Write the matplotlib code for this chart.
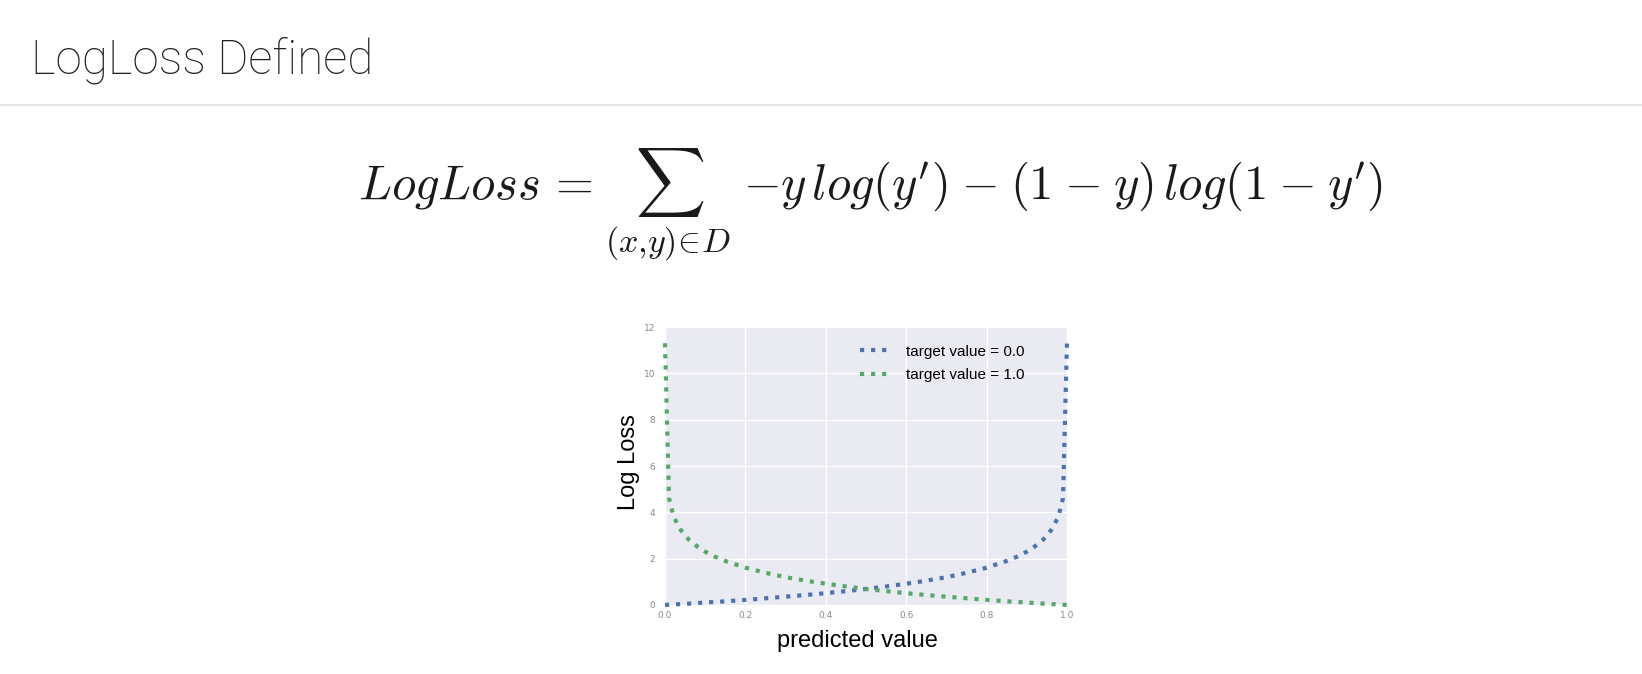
import matplotlib
matplotlib.use("Agg")
import matplotlib.pyplot as plt
from matplotlib.lines import Line2D

# ---- data ----
predicted = [0.00001, 0.01, 0.02, 0.03, 0.04, 0.05, 0.06, 0.08, 0.10, 0.125, 0.15,
             0.20, 0.25, 0.30, 0.35, 0.40, 0.45, 0.50, 0.55, 0.60, 0.65, 0.70,
             0.75, 0.80, 0.85, 0.875, 0.90, 0.92, 0.94, 0.95, 0.96, 0.97, 0.98,
             0.99, 0.99999]
loss_target0 = [0.00, 0.01, 0.02, 0.03, 0.04, 0.05, 0.06, 0.08, 0.11, 0.13, 0.16,
                0.22, 0.29, 0.36, 0.43, 0.51, 0.60, 0.69, 0.80, 0.92, 1.05, 1.20,
                1.39, 1.61, 1.90, 2.08, 2.30, 2.53, 2.81, 3.00, 3.22, 3.51, 3.91,
                4.61, 11.3]
loss_target1 = [11.3, 4.61, 3.91, 3.51, 3.22, 3.00, 2.81, 2.53, 2.30, 2.08, 1.90,
                1.61, 1.39, 1.20, 1.05, 0.92, 0.80, 0.69, 0.60, 0.51, 0.43, 0.36,
                0.29, 0.22, 0.16, 0.13, 0.11, 0.08, 0.06, 0.05, 0.04, 0.03, 0.02,
                0.01, 0.00]
series_labels = ["target value = 0.0", "target value = 1.0"]
x_ticks = [0.0, 0.2, 0.4, 0.6, 0.8, 1.0]
y_ticks = [0, 2, 4, 6, 8, 10, 12]

title_text = "LogLoss Defined"
formula_lhs = r"$LogLoss\,=$"
formula_sum = r"$\sum_{(x{,}y)\!{\in}\!D}$"
formula_rhs = (r"${-}y\,log(y^{\prime})\hspace{0.06}-\hspace{0.06}(1\hspace{0.06}-\hspace{0.06}y)"
               r"\,log(1\hspace{0.06}-\hspace{0.06}y^{\prime})$")

W, H = 1642, 674
fig = plt.figure(figsize=(W / 100, H / 100), dpi=100)
fig.patch.set_facecolor("white")

def fx(px):
    return px / W

def fy(py):
    return 1 - py / H

# title and separator
fig.text(fx(31), fy(73), title_text, fontfamily="Roboto", fontweight="light",
         fontsize=34.3, color="#222222", ha="left", va="baseline")
fig.add_artist(Line2D([0, 1], [fy(105), fy(105)], color="#e6e6e6", lw=1.6,
                      transform=fig.transFigure))

# formula (three pieces, placed on one baseline)
plt.rcParams["mathtext.fontset"] = "cm"
fkw = dict(fontsize=35, color="#1a1a1a", va="baseline")
fig.text(fx(358), fy(199), formula_lhs, ha="left", **fkw)
fig.text(fx(668), fy(199), formula_sum, ha="center", **fkw)
fig.text(fx(1383), fy(199), formula_rhs, ha="right", **fkw)

# plot
ax = fig.add_axes([fx(665), fy(605), fx(1067) - fx(665), fy(327) - fy(605)])
ax.set_facecolor("#EAEAF2")
for s in ax.spines.values():
    s.set_visible(False)
ax.grid(True, color="white", lw=1.0)
ax.set_axisbelow(True)

ax.plot(predicted, loss_target0, linestyle=":", lw=3.0, color="#4C72B0",
        label=series_labels[0], clip_on=False)
ax.plot(predicted, loss_target1, linestyle=":", lw=3.0, color="#55A868",
        label=series_labels[1], clip_on=False)

ax.set_xlim(0, 1)
ax.set_ylim(0, 12)
ax.set_xticks(x_ticks)
ax.set_xticklabels([f"{v:.1f}" for v in x_ticks])
ax.set_yticks(y_ticks)
ax.set_yticklabels([str(v) for v in y_ticks])
ax.tick_params(axis="both", length=0, labelsize=6.5, labelcolor="#8a8a8a")
ax.tick_params(axis="x", pad=4)
ax.tick_params(axis="y", pad=7)

leg = ax.legend(loc="upper left", bbox_to_anchor=(0.485, 0.937), frameon=False,
                borderpad=0, borderaxespad=0, handlelength=2.0, handletextpad=1.0,
                labelspacing=0.62,
                prop={"family": "Liberation Sans", "size": 11})

fig.text(fx(629), fy(462), "Log Loss", rotation=90, ha="center", va="center",
         fontfamily="Liberation Sans", fontsize=17, color="black")
fig.text(fx(857), fy(641), "predicted value", ha="center", va="center",
         fontfamily="Liberation Sans", fontsize=17, color="black")

fig.savefig("out.png", dpi=100, facecolor="white")
